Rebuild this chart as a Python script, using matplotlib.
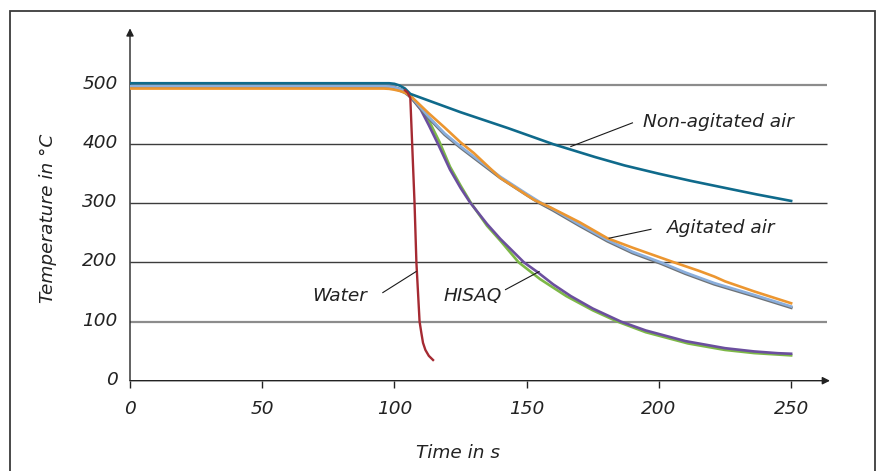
import matplotlib
matplotlib.use("Agg")
import matplotlib.pyplot as plt
import matplotlib.patheffects as pe
from matplotlib.patches import Rectangle
from matplotlib.transforms import ScaledTranslation

# cooling curves, time in s / temperature in deg C
t_still = [0, 50, 95, 98, 100, 102, 104, 106, 125, 143, 160, 168, 176, 187,
           200, 212, 225, 237, 250]
T_still = [503, 503, 503, 503, 502, 499, 494, 485, 454, 427, 400, 389, 378,
           364, 350, 338, 326, 315, 304]

t_agit = [0, 50, 96, 98, 100, 102, 104, 106, 113, 119, 125, 130, 140, 150,
          155, 160, 170, 180.5, 190, 200.8, 210, 221, 236, 250]
T_agit = [498, 498, 498, 497.5, 496, 493, 489, 482, 446, 418, 396, 379, 345,
          316, 302, 290, 264, 238, 218, 200, 183, 165, 145, 125.5]

t_agit2 = [0, 50, 96, 98, 100, 102, 104, 106, 113, 119, 125, 130, 140,
           152.7, 159, 170, 180.5, 190, 205.8, 215, 221, 225, 236, 250]
T_agit2 = [494, 494, 494, 493.5, 492, 490, 487, 482, 452, 428, 403, 385,
           343, 306, 293, 268, 241, 225, 200, 186, 176, 168, 151, 131]

t_hisaq = [0, 50, 96, 98, 100, 102, 104, 106, 110, 113, 116.5, 121, 125,
           128.5, 135, 140, 149, 154, 160, 166.7, 175, 185.6, 195, 210, 225,
           236, 245, 250]
T_hisaq = [498, 498, 498, 497.5, 496, 493, 489, 481, 458, 432, 400, 357,
           326, 302, 265, 240, 200, 184, 163, 143, 122, 100, 85, 67, 55,
           49.5, 46.5, 45.6]

t_hisaq2 = [0, 50, 96, 98, 100, 102, 104, 106, 110, 113, 117, 121, 125,
            129, 135, 140, 147, 155, 165, 175, 184.3, 195, 211, 225, 236,
            250]
T_hisaq2 = [498, 498, 498, 497.5, 496, 493, 489, 482, 462, 440, 404, 362,
            330, 300, 262, 237, 200, 172, 143, 119, 100, 82, 63, 52, 46.7,
            42.8]

t_water = [104, 105, 106, 107.6, 108.3, 109.5, 110.2, 110.8, 111.7, 113,
           114.6]
T_water = [491, 487, 478, 300, 200, 100, 80, 64, 52, 42, 35]

x_ticks = [0, 50, 100, 150, 200, 250]
y_ticks = [0, 100, 200, 300, 400, 500]

# (text, text x, text y, leader start, leader end)
labels = [
    ("Non-agitated air", 194, 438, (166.7, 396), (190, 436)),
    ("Agitated air", 203, 259, (181.2, 241), (197, 256)),
    ("HISAQ", 118.5, 144, (142, 154), (154.7, 184.5)),
    ("Water", 69, 143, (95.6, 149), (108.2, 184.6)),
]

plt.rcParams['font.family'] = ['DejaVu Sans']
txt = '#222222'

fig = plt.figure(figsize=(8.78, 4.71), dpi=100)
fig.patches.append(Rectangle((10 / 878, -0.05), 865 / 878, 1.05 - 11 / 471,
                             transform=fig.transFigure, fill=False,
                             edgecolor='#3a3a3a', linewidth=1.3))

ax = fig.add_axes([130 / 878, 90.3 / 471, 700 / 878, 352.4 / 471])
ax.set_xlim(0, 264.7)
ax.set_ylim(0, 595.9)
for s in ax.spines.values():
    s.set_visible(False)

# grid lines, the 100 and 500 ones come out lighter in the original
for y in y_ticks[1:]:
    light = y in (100, 500)
    ax.hlines(y, 0, 263.6, color='#8c8c8c' if light else '#3c3c3c',
              linewidth=1.6 if light else 1.0, zorder=1)

# axes with arrow heads
ax.annotate('', xy=(1, 0), xycoords='axes fraction', xytext=(0, 0),
            arrowprops=dict(arrowstyle='-|>', color='#222222', lw=1.0,
                            mutation_scale=11, shrinkA=0, shrinkB=0))
ax.annotate('', xy=(0, 1), xycoords='axes fraction', xytext=(0, 0),
            arrowprops=dict(arrowstyle='-|>', color='#222222', lw=1.0,
                            mutation_scale=11, shrinkA=0, shrinkB=0))

ax.plot(t_hisaq2, T_hisaq2, color='#7db847', lw=1.9, zorder=3)
ax.plot(t_hisaq, T_hisaq, color='#6b4f9e', lw=1.9, zorder=4)
ax.plot(t_agit, T_agit, color='#8aaedc', lw=1.9, zorder=5,
        path_effects=[pe.Stroke(linewidth=2.2, foreground='#6e7377',
                                offset=(0, -0.8)), pe.Normal()])
ax.plot(t_agit2, T_agit2, color='#ec9630', lw=1.9, zorder=6)
ax.plot(t_still, T_still, color='#0f6a8b', lw=1.9, zorder=7)
ax.plot(t_water, T_water, color='#a52a32', lw=1.7, zorder=8)

for text, tx, ty, p0, p1 in labels:
    ax.plot([p0[0], p1[0]], [p0[1], p1[1]], color='#1a1a1a', lw=0.8,
            zorder=9)
    ax.text(tx, ty, text, fontsize=13.3, style='italic', color=txt,
            ha='left', va='center', zorder=10)

ax.set_xticks(x_ticks)
ax.set_yticks(y_ticks)
ax.tick_params(axis='x', direction='out', length=5, width=1.0,
               color='#222222', pad=9, labelsize=13.3, labelcolor=txt)
ax.tick_params(axis='y', length=0, pad=9, labelsize=13.3, labelcolor=txt)
up = ScaledTranslation(0, 3 / 100, fig.dpi_scale_trans)
for lbl in ax.get_xticklabels():
    lbl.set_fontstyle('italic')
for lbl in ax.get_yticklabels():
    lbl.set_fontstyle('italic')
    lbl.set_transform(lbl.get_transform() + up)

fig.text(458 / 878, 1 - 453.5 / 471, "Time in s", fontsize=13.3,
         style='italic', color=txt, ha='center', va='center')
fig.text(48 / 878, 1 - 218 / 471, "Temperature in °C", fontsize=13.3,
         style='italic', color=txt, ha='center', va='center', rotation=90)

fig.savefig("out.png", dpi=100)
